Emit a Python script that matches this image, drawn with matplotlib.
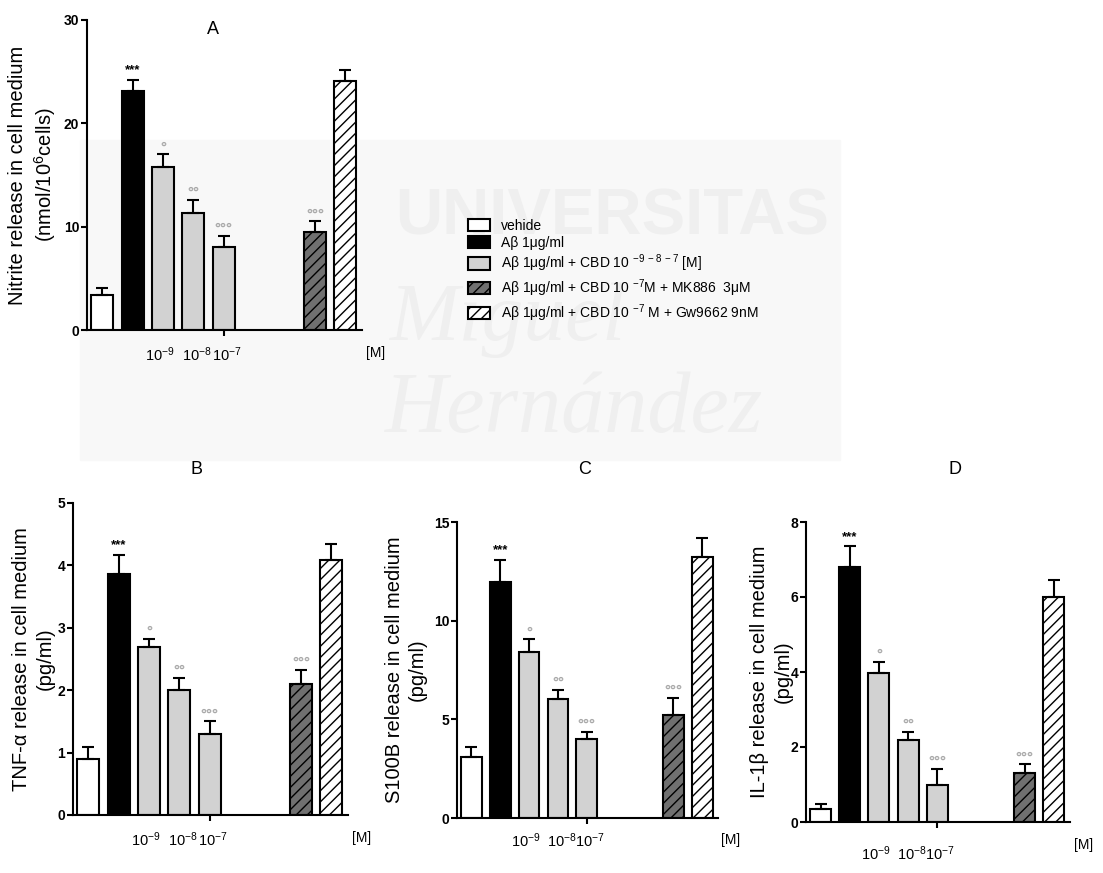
import matplotlib
matplotlib.use("Agg")
import matplotlib.pyplot as plt
from matplotlib.patches import Patch, Rectangle

plt.rcParams["font.family"] = ["Liberation Sans", "DejaVu Sans"]
plt.rcParams["mathtext.fontset"] = "custom"
plt.rcParams["mathtext.rm"] = "Liberation Sans"
plt.rcParams["mathtext.it"] = "Liberation Sans:italic"
plt.rcParams["mathtext.bf"] = "Liberation Sans:bold"
plt.rcParams["hatch.linewidth"] = 1.0

# groups, left to right in every panel
groups = ["vehide", "Abeta", "CBD 1e-9", "CBD 1e-8", "CBD 1e-7", "CBD 1e-7 + MK886", "CBD 1e-7 + Gw9662"]
positions = [0, 1, 2, 3, 4, 7, 8]

# (mean, upper SEM)
nitrite = [3.4, 23.1, 15.8, 11.35, 8.05, 9.45, 24.1]
nitrite_err = [0.7, 1.1, 1.2, 1.25, 1.05, 1.05, 1.1]
tnf = [0.89, 3.87, 2.70, 2.00, 1.30, 2.10, 4.08]
tnf_err = [0.2, 0.3, 0.12, 0.2, 0.2, 0.22, 0.26]
s100b = [3.1, 11.97, 8.43, 6.05, 4.02, 5.2, 13.22]
s100b_err = [0.5, 1.1, 0.63, 0.46, 0.35, 0.9, 0.95]
il1b = [0.36, 6.8, 3.98, 2.2, 1.0, 1.31, 6.0]
il1b_err = [0.11, 0.55, 0.29, 0.2, 0.42, 0.23, 0.46]

signif = ["", "***", "°", "°°", "°°°", "°°°", ""]
conc_labels = ["$10^{-9}$", "$10^{-8}$", "$10^{-7}$"]

legend_labels = [
    "vehide",
    "Aβ 1μg/ml",
    r"Aβ 1μg/ml + CBD 10 $^{-9\ -8\ -7}$ [M]",
    r"Aβ 1μg/ml + CBD 10 $^{-7}$M + MK886  3μM",
    r"Aβ 1μg/ml + CBD 10 $^{-7}$ M + Gw9662 9nM",
]

faces = ["white", "black", "#d2d2d2", "#d2d2d2", "#d2d2d2", "#707070", "white"]
hatches = [None, None, None, None, None, "///", "///"]

W, H = 1103, 873
fig = plt.figure(figsize=(W / 100, H / 100), dpi=100)


def px(x0, y0, x1, y1):
    # pixel box (left, top, right, bottom) -> figure rect
    return [x0 / W, 1 - y1 / H, (x1 - x0) / W, (y1 - y0) / H]


# faint watermark behind panel A / legend
fig.patches.append(Rectangle((80 / W, 1 - 460 / H), 760 / W, 320 / H,
                             transform=fig.transFigure, color="#f8f8f8", zorder=-10))
fig.text(395 / W, 1 - 235 / H, "UNIVERSITAS", fontsize=47, fontweight="bold",
         family=["Liberation Sans Narrow", "Liberation Sans"], color="#efefef", zorder=-9)
fig.text(390 / W, 1 - 340 / H, "Miguel", fontsize=60, style="italic",
         family="Liberation Serif", color="#efefef", zorder=-9)
fig.text(385 / W, 1 - 432 / H, "Hernández", fontsize=62, style="italic",
         family="Liberation Serif", color="#efefef", zorder=-9)

panels = [
    ("A", nitrite, nitrite_err, 30, 10, "Nitrite release in cell medium\n(nmol/10$^{6}$cells)",
     px(87, 20, 362, 330), (213, 30), (33, 175), 0.08),
    ("B", tnf, tnf_err, 5, 1, "TNF-α release in cell medium\n(pg/ml)",
     px(73, 503, 348, 815), (197, 470), (33, 659), 0.08),
    ("C", s100b, s100b_err, 15, 5, "S100B release in cell medium\n(pg/ml)",
     px(457, 522, 718, 818), (585, 470), (406, 670), 0.075),
    ("D", il1b, il1b_err, 8, 2, "IL-1β release in cell medium\n(pg/ml)",
     px(806, 522, 1070, 822), (955, 470), (771, 672), 0.105),
]

for name, vals, errs, ymax, step, ylab, rect, tpos, lpos, lab_off in panels:
    ax = fig.add_axes(rect)
    ax.set_facecolor("none")
    for i in range(len(vals)):
        ax.bar(positions[i], vals[i], width=0.72, color=faces[i], edgecolor="black",
               linewidth=1.5, hatch=hatches[i], zorder=2)
    ax.errorbar(positions, vals, yerr=[[0] * len(vals), errs], fmt="none",
                ecolor="black", elinewidth=1.5, capsize=4, capthick=1.5, zorder=3)
    for i in range(len(vals)):
        if not signif[i]:
            continue
        y = vals[i] + errs[i] + ymax * 0.022
        if signif[i].startswith("*"):
            ax.text(positions[i], y, signif[i], ha="center", va="baseline",
                    fontsize=9.5, fontweight="bold", color="black")
        else:
            ax.text(positions[i], y - ymax * 0.012, signif[i], ha="center", va="baseline",
                    fontsize=11, fontweight="bold", color="#a8a8a8")

    ax.set_xlim(-0.5, 8.55)
    ax.set_ylim(0, ymax)
    ax.set_yticks(range(0, ymax + 1, step))
    ax.tick_params(axis="y", labelsize=10, width=1.5, length=4, pad=1.5)
    for t in ax.get_yticklabels():
        t.set_fontweight("bold")
    ax.set_xticks([4])
    ax.set_xticklabels([""])
    ax.tick_params(axis="x", width=1.5, length=4)
    for s in ["top", "right"]:
        ax.spines[s].set_visible(False)
    ax.spines["left"].set_linewidth(1.5)
    ax.spines["bottom"].set_linewidth(1.5)

    tr = ax.get_xaxis_transform()
    for xp, lab in zip([1.9, 3.12, 4.1], conc_labels):
        ax.text(xp, -lab_off, lab, transform=tr, ha="center", va="center", fontsize=10.5)
    ax.text(9.0, -0.075, "[M]", transform=tr, ha="center", va="center", fontsize=10)

    fig.text(tpos[0] / W, 1 - tpos[1] / H, name, ha="center", va="center", fontsize=13)
    fig.text(lpos[0] / W, 1 - lpos[1] / H, ylab, rotation=90, ha="center", va="center",
             fontsize=14.5, linespacing=1.3)

handles = [Patch(facecolor=faces[i], edgecolor="black", linewidth=1.5, hatch=hatches[i])
           for i in [0, 1, 2, 5, 6]]
fig.legend(handles=handles, labels=legend_labels, loc="upper left",
           bbox_to_anchor=(0.413, 0.764), frameon=False, fontsize=10,
           handlelength=1.6, handleheight=1.0, labelspacing=0.22, handletextpad=0.8)

fig.savefig("out.png", dpi=100)
